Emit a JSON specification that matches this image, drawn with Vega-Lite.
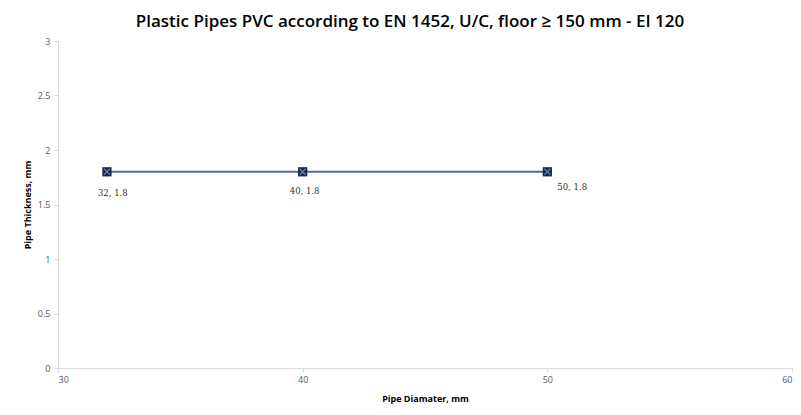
{
  "$schema": "https://vega.github.io/schema/vega-lite/v6.json",
  "autosize": {"type": "none"},
  "width": 734,
  "height": 327,
  "padding": {"left": 58, "top": 41, "right": 9, "bottom": 47},
  "background": "white",
  "config": {"view": {"stroke": null}},
  "title": {
    "text": "Plastic Pipes PVC according to EN 1452, U/C, floor ≥ 150 mm -  EI 120",
    "font": "Open Sans",
    "fontSize": 17,
    "fontWeight": 600,
    "color": "#000000",
    "anchor": "middle",
    "dx": -15,
    "offset": 6
  },
  "data": {"values": [
    {"d": 32, "t": 1.8, "label": "32, 1.8", "pos": "a"},
    {"d": 40, "t": 1.8, "label": "40, 1.8", "pos": "b"},
    {"d": 50, "t": 1.8, "label": "50, 1.8", "pos": "c"}
  ]},
  "encoding": {
    "x": {"field": "d", "type": "quantitative",
      "scale": {"domain": [30, 60], "nice": false},
      "axis": {"values": [30, 40, 50, 60], "title": "Pipe Diamater, mm", "grid": false,
        "domainColor": "#d9d9d9", "tickColor": "#d9d9d9", "tickSize": 4,
        "labelFont": "Open Sans", "labelFontSize": 9, "labelColor": "#595959",
        "titleFont": "Open Sans", "titleFontSize": 9, "titleFontWeight": "bold", "titleColor": "#000000",
        "titlePadding": 10, "labelPadding": 3}},
    "y": {"field": "t", "type": "quantitative",
      "scale": {"domain": [0, 3], "nice": false},
      "axis": {"values": [0, 0.5, 1, 1.5, 2, 2.5, 3], "format": "~g", "title": "Pipe Thickness, mm", "grid": false,
        "domainColor": "#d9d9d9", "tickColor": "#d9d9d9", "tickSize": 4,
        "labelFont": "Open Sans", "labelFontSize": 9, "labelColor": "#595959",
        "titleFont": "Open Sans", "titleFontSize": 9, "titleFontWeight": "bold", "titleColor": "#000000",
        "titlePadding": 5, "labelPadding": 4}}
  },
  "layer": [
    {"mark": {"type": "line", "color": "#4472a8", "strokeWidth": 2}},
    {"mark": {"type": "point", "shape": "square", "filled": true, "color": "#17263f", "size": 85, "opacity": 1}},
    {"mark": {"type": "point", "shape": "M-1,-1L1,1M1,-1L-1,1", "filled": false, "color": "#4f86c6", "strokeWidth": 1.3, "size": 36, "opacity": 1}},
    {"transform": [{"filter": "datum.pos == 'a'"}],
     "mark": {"type": "text", "font": "DejaVu Serif", "fontSize": 8.5, "color": "#333333", "align": "left", "dx": -9, "dy": 21},
     "encoding": {"text": {"field": "label"}}},
    {"transform": [{"filter": "datum.pos == 'b'"}],
     "mark": {"type": "text", "font": "DejaVu Serif", "fontSize": 8.5, "color": "#333333", "align": "center", "dx": 2, "dy": 19},
     "encoding": {"text": {"field": "label"}}},
    {"transform": [{"filter": "datum.pos == 'c'"}],
     "mark": {"type": "text", "font": "DejaVu Serif", "fontSize": 8.5, "color": "#333333", "align": "left", "dx": 10, "dy": 15},
     "encoding": {"text": {"field": "label"}}}
  ]
}
